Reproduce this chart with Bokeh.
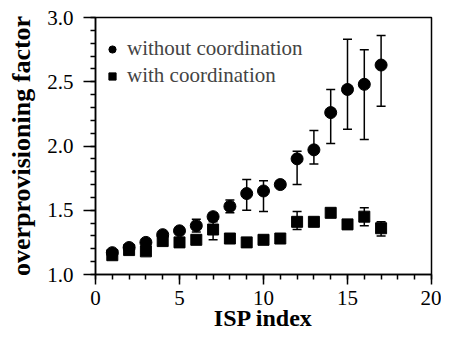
from bokeh.plotting import figure
from bokeh.models import (ColumnDataSource, Whisker, Legend, LegendItem, Range1d,
                          FixedTicker, NumeralTickFormatter)
from bokeh.embed import file_html
from bokeh.resources import INLINE

isp = list(range(1, 18))
y_without = [1.17, 1.21, 1.25, 1.31, 1.34, 1.38, 1.45, 1.53, 1.63, 1.65, 1.70, 1.90, 1.97, 2.26, 2.44, 2.48, 2.63]
lo_without = [1.17, 1.21, 1.25, 1.31, 1.34, 1.33, 1.41, 1.48, 1.50, 1.49, 1.70, 1.70, 1.86, 2.02, 2.13, 2.05, 2.31]
hi_without = [1.17, 1.21, 1.25, 1.31, 1.34, 1.43, 1.48, 1.58, 1.74, 1.73, 1.70, 1.96, 2.12, 2.44, 2.83, 2.75, 2.86]

y_with = [1.15, 1.19, 1.18, 1.26, 1.25, 1.27, 1.35, 1.28, 1.25, 1.27, 1.28, 1.41, 1.41, 1.48, 1.39, 1.45, 1.36]
lo_with = [1.15, 1.19, 1.18, 1.26, 1.25, 1.27, 1.27, 1.28, 1.25, 1.27, 1.28, 1.35, 1.41, 1.48, 1.39, 1.38, 1.30]
hi_with = [1.15, 1.19, 1.18, 1.26, 1.25, 1.27, 1.43, 1.28, 1.25, 1.27, 1.28, 1.49, 1.41, 1.48, 1.39, 1.52, 1.41]

x_ticks = [0, 5, 10, 15, 20]
y_ticks = [1.0, 1.5, 2.0, 2.5, 3.0]
x_title = "ISP index"
y_title = "overprovisioning factor"

FONT = "Liberation Serif"

p = figure(width=441, height=335, output_backend="svg", toolbar_location=None,
           x_range=Range1d(0, 20), y_range=Range1d(1.0, 3.0),
           min_border_left=95, min_border_right=10, min_border_top=17, min_border_bottom=61)
p.xgrid.visible = False
p.ygrid.visible = False
p.outline_line_color = "black"
p.outline_line_width = 1.5
p.background_fill_color = "white"
p.border_fill_color = "white"

src_wo = ColumnDataSource(dict(x=isp, y=y_without, lo=lo_without, hi=hi_without))
src_w = ColumnDataSource(dict(x=isp, y=y_with, lo=lo_with, hi=hi_with))

for src in (src_w, src_wo):
    w = Whisker(source=src, base="x", lower="lo", upper="hi", level="underlay",
                line_color="black", line_width=1.5)
    w.upper_head.size = 9
    w.lower_head.size = 9
    w.upper_head.line_width = 1.5
    w.lower_head.line_width = 1.5
    p.add_layout(w)

r_w = p.scatter("x", "y", source=src_w, marker="square", size=11, color="black")
r_wo = p.scatter("x", "y", source=src_wo, marker="circle", size=12, color="black")

for ax in (p.xaxis[0], p.yaxis[0]):
    ax.axis_line_width = 1.5
    ax.axis_line_color = "black"
    ax.major_tick_line_width = 1.5
    ax.minor_tick_line_width = 1.5
    ax.major_tick_in = 0
    ax.minor_tick_in = 0
    ax.major_label_text_font = FONT
    ax.major_label_text_font_size = "21px"
    ax.major_label_text_color = "black"
    ax.axis_label_text_font = FONT
    ax.axis_label_text_font_style = "bold"
    ax.axis_label_text_color = "black"

p.xaxis.ticker = FixedTicker(ticks=x_ticks, minor_ticks=list(range(0, 21)))
p.yaxis.ticker = FixedTicker(ticks=y_ticks, minor_ticks=[round(1.0 + 0.1 * i, 1) for i in range(21)])
p.yaxis.formatter = NumeralTickFormatter(format="0.0")
p.xaxis.major_tick_out = 10
p.xaxis.minor_tick_out = 5
p.yaxis.major_tick_out = 12
p.yaxis.minor_tick_out = 5
p.xaxis.major_label_standoff = 6
p.yaxis.major_label_standoff = 10
p.xaxis.axis_label = x_title
p.yaxis.axis_label = y_title
p.xaxis.axis_label_text_font_size = "24px"
p.yaxis.axis_label_text_font_size = "26px"
p.xaxis.axis_label_standoff = -3
p.yaxis.axis_label_standoff = 8

legend = Legend(items=[LegendItem(label="without coordination", renderers=[r_wo]),
                       LegendItem(label="with coordination", renderers=[r_w])],
                location=(8, 186), border_line_color=None, background_fill_alpha=0,
                label_text_font=FONT, label_text_font_size="21px",
                glyph_width=18, glyph_height=24, label_height=24, spacing=2,
                label_standoff=6, padding=0, margin=0)
p.add_layout(legend)

open("out.html", "w").write(file_html(p, INLINE))
